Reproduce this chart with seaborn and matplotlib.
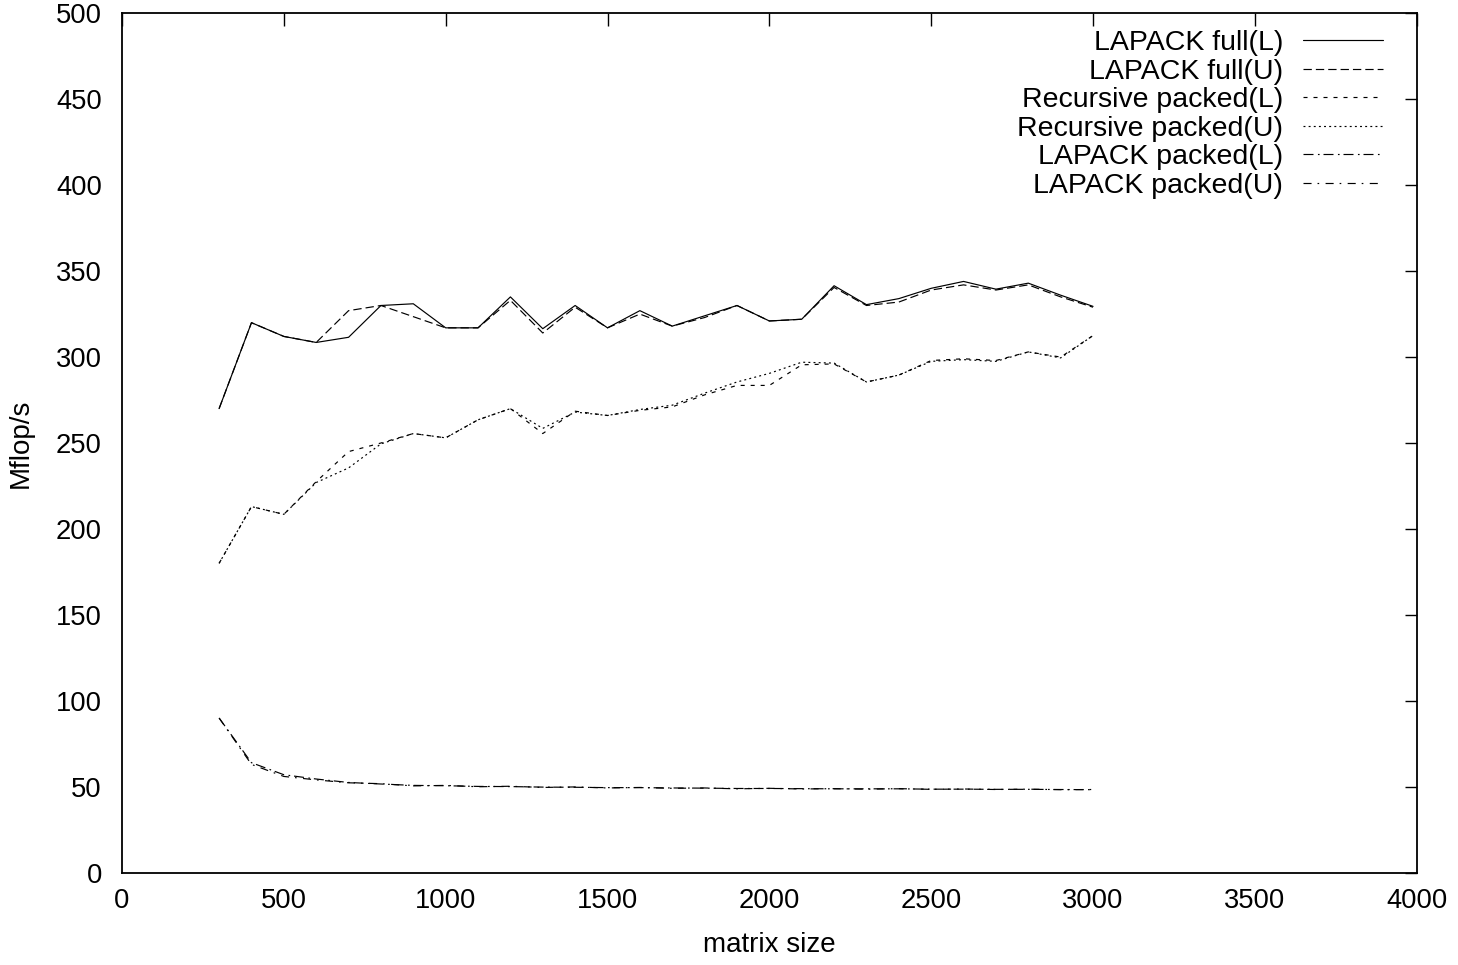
import matplotlib
matplotlib.use("Agg")
import matplotlib.pyplot as plt
import seaborn as sns
import pandas as pd

# ---- data ----
matrix_size = [300, 400, 500, 600, 700, 800, 900, 1000, 1100, 1200, 1300, 1400, 1500, 1600,
               1700, 1800, 1900, 2000, 2100, 2200, 2300, 2400, 2500, 2600, 2700, 2800, 2900, 3000]

lapack_full_L = [270, 320, 312, 308.5, 311.5, 330, 331, 317, 317, 335, 316.5, 330, 317, 327,
                 318, 324, 330, 321, 322, 341.5, 330.5, 334, 340, 344, 339.5, 343, 336, 329.5]
lapack_full_U = [270, 320, 312, 308.5, 327, 330, 323.5, 317, 317, 333, 314, 329, 317, 325,
                 318, 323, 330, 321, 322, 340.5, 330, 332, 339, 342, 339, 342, 335, 329]
rec_packed_L = [180, 213, 208.5, 227.5, 245, 250, 255.5, 253, 263.5, 270, 255.5, 268.5, 266, 269,
                271, 278, 283.5, 283.5, 295.5, 296, 285.5, 289.5, 298, 299, 298, 303, 300, 312.5]
rec_packed_U = [180, 213, 208.5, 227, 235.5, 249.5, 255.5, 253, 263.5, 270, 258.5, 268, 266, 269.5,
                272, 279, 285.5, 290.5, 297, 296.5, 285.5, 289.5, 297.5, 298.5, 297.5, 303, 299.5, 312.5]
lapack_packed_L = [90, 64, 57, 54.5, 52.5, 51.6, 50.8, 50.6, 50.2, 50.1, 49.8, 49.7, 49.5, 49.5,
                   49.3, 49.2, 49.0, 49.0, 48.9, 48.8, 48.8, 48.8, 48.6, 48.6, 48.5, 48.5, 48.4, 48.3]
lapack_packed_U = [90, 63, 56, 54, 52.3, 51.8, 50.5, 50.8, 50.0, 50.3, 49.6, 49.9, 49.3, 49.6,
                   49.1, 49.3, 48.8, 49.1, 48.7, 48.9, 48.6, 48.9, 48.5, 48.7, 48.4, 48.6, 48.3, 48.4]

series_names = ["LAPACK full(L)", "LAPACK full(U)", "Recursive packed(L)",
                "Recursive packed(U)", "LAPACK packed(L)", "LAPACK packed(U)"]
series_values = [lapack_full_L, lapack_full_U, rec_packed_L, rec_packed_U,
                 lapack_packed_L, lapack_packed_U]

x_ticks = [0, 500, 1000, 1500, 2000, 2500, 3000, 3500, 4000]
y_ticks = [0, 50, 100, 150, 200, 250, 300, 350, 400, 450, 500]

# ---- style ----
sns.set_theme(style="white")
plt.rcParams["font.family"] = ["Liberation Sans", "DejaVu Sans"]
plt.rcParams["lines.scale_dashes"] = False
plt.rcParams["text.color"] = "black"
plt.rcParams["axes.labelcolor"] = "black"
plt.rcParams["xtick.color"] = "black"
plt.rcParams["ytick.color"] = "black"

dash_styles = {
    "LAPACK full(L)": "-",
    "LAPACK full(U)": (0, (6.0, 2.9)),
    "Recursive packed(L)": (0, (2.9, 4.3)),
    "Recursive packed(U)": (0, (1.4, 2.3)),
    "LAPACK packed(L)": (0, (7.2, 3.2, 1.2, 2.8)),
    "LAPACK packed(U)": (0, (5.8, 4.3, 1.2, 4.6)),
}

TICK_FS = 19.7
LABEL_FS = 20.0
LEG_FS = 20.5
fig = plt.figure(figsize=(14.58, 9.65), dpi=100)
ax = fig.add_axes([122 / 1458, 1 - 872.7 / 965, (1416.7 - 122) / 1458, (872.7 - 13.3) / 965])

for name, vals in zip(series_names, series_values):
    df = pd.DataFrame({"matrix size": matrix_size, "Mflop/s": vals})
    sns.lineplot(data=df, x="matrix size", y="Mflop/s", ax=ax, color="black",
                 linewidth=0.85, linestyle=dash_styles[name], label=name)

ax.set_xlim(0, 4000)
ax.set_ylim(0, 500)
ax.set_xticks(x_ticks)
ax.set_yticks(y_ticks)
ax.set_xticklabels([str(t) for t in x_ticks])
ax.set_yticklabels([str(t) for t in y_ticks])
ax.tick_params(axis="both", which="major", direction="in", length=9, width=1.0,
               labelsize=TICK_FS, top=True, right=True, colors="black")
ax.tick_params(axis="x", pad=11)
ax.tick_params(axis="y", pad=14.5)
for sp in ax.spines.values():
    sp.set_visible(True)
    sp.set_color("black")
    sp.set_linewidth(1.3)

ax.set_xlabel("matrix size", fontsize=LABEL_FS, va="center", color="black")
ax.set_ylabel("Mflop/s", fontsize=LABEL_FS, va="center", color="black")
ax.xaxis.set_label_coords(0.5, (872.7 - 945) / 859.4)
ax.yaxis.set_label_coords((21 - 122) / 1294.7, 0.5)

leg = ax.legend(loc="upper right", bbox_to_anchor=((1383 - 122) / 1294.7, (872.7 - 30) / 859.4),
                frameon=False, markerfirst=False, fontsize=LEG_FS, handlelength=2.8,
                handletextpad=0.7, labelspacing=0.088, borderpad=0, borderaxespad=0,
                labelcolor="black")

fig.savefig("out.png", dpi=100)
